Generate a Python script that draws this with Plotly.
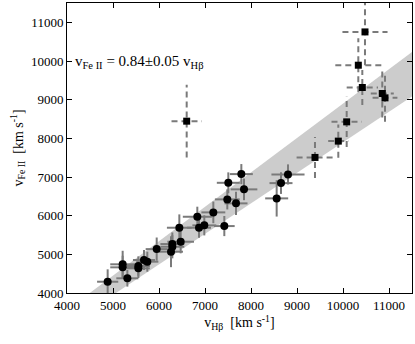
import plotly.graph_objects as go

# circles: solid error bars
hb_c = [4884, 5210, 5210, 5312, 5551, 5551, 5674, 5746, 5950, 6261, 6290, 6290, 6471, 6442,
        6833, 6870, 6985, 7181, 7420, 7485, 7507, 7674, 7790, 7848, 8558, 8652, 8804]
fe_c = [4292, 4742, 4664, 4380, 4698, 4638, 4853, 4810, 5135, 5068, 5196, 5266, 5326, 5688,
        5972, 5688, 5749, 6085, 5731, 6421, 6850, 6318, 7075, 6680, 6447, 6842, 7067]
hb_c_err = [230, 270, 270, 240, 250, 250, 240, 240, 240, 260, 260, 260, 290, 270,
            315, 260, 260, 260, 225, 270, 250, 250, 250, 290, 250, 250, 360]
fe_c_err = [320, 350, 300, 215, 250, 250, 260, 260, 300, 400, 300, 300, 300, 345,
            260, 260, 260, 280, 260, 260, 270, 300, 260, 280, 470, 280, 260]

# squares: dashed error bars
hb_s = [10478, 10333, 10420, 10854, 10913, 6602, 10080, 9898, 9391]
fe_s = [10752, 9891, 9315, 9160, 9047, 8444, 8426, 7928, 7506]
hb_s_err = [490, 500, 340, 250, 270, 330, 330, 220, 400]
fe_s_err = [860, 700, 450, 620, 620, 940, 650, 430, 530]

slope = 0.84
slope_err = 0.05
band_x = [4000, 11500]
ticks = [4000, 5000, 6000, 7000, 8000, 9000, 10000, 11000]

serif = "Liberation Serif"
grey = "#7a7a7a"

fig = go.Figure()

# fit band
fig.add_trace(go.Scatter(x=band_x, y=[(slope - slope_err) * v for v in band_x],
                         mode='lines', line=dict(width=0, color='#cccccc'),
                         showlegend=False, hoverinfo='skip'))
fig.add_trace(go.Scatter(x=band_x, y=[(slope + slope_err) * v for v in band_x],
                         mode='lines', line=dict(width=0, color='#cccccc'),
                         fill='tonexty', fillcolor='#cccccc',
                         showlegend=False, hoverinfo='skip'))

# dashed error bars for squares
seg_x, seg_y = [], []
for x, y, ex, ey in zip(hb_s, fe_s, hb_s_err, fe_s_err):
    seg_x += [x - ex, x + ex, None, x, x, None]
    seg_y += [y, y, None, y - ey, y + ey, None]
fig.add_trace(go.Scatter(x=seg_x, y=seg_y, mode='lines',
                         line=dict(color=grey, width=2, dash='6px,4px'),
                         showlegend=False, hoverinfo='skip'))

fig.add_trace(go.Scatter(x=hb_c, y=fe_c, mode='markers',
                         marker=dict(symbol='circle', size=8, color='black'),
                         error_x=dict(type='data', array=hb_c_err, color=grey, thickness=2, width=0),
                         error_y=dict(type='data', array=fe_c_err, color=grey, thickness=2, width=0),
                         showlegend=False))
fig.add_trace(go.Scatter(x=hb_s, y=fe_s, mode='markers',
                         marker=dict(symbol='square', size=7, color='black'),
                         showlegend=False))

fig.add_annotation(x=4120, y=9969, xref='x', yref='y', xanchor='left', yanchor='middle',
                   text='v<sub>Fe II</sub> = 0.84±0.05 v<sub>Hβ</sub>', showarrow=False,
                   font=dict(family=serif, size=15, color='black'))

axis_style = dict(showgrid=False, zeroline=False, showline=True, linecolor='black', linewidth=1,
                  mirror='ticks', ticks='inside', ticklen=5, tickcolor='black',
                  tickvals=ticks, ticktext=[str(t) for t in ticks],
                  tickfont=dict(family=serif, size=13, color='black'))

fig.update_xaxes(range=[4000, 11500],
                 title=dict(text='v<sub>Hβ</sub>  [km s<sup>-1</sup>]',
                            font=dict(family=serif, size=14, color='black'), standoff=4),
                 **axis_style)
fig.update_yaxes(range=[4000, 11500],
                 title=dict(text='v<sub>Fe II</sub>  [km s<sup>-1</sup>]',
                            font=dict(family=serif, size=14, color='black'), standoff=4),
                 **axis_style)

fig.update_layout(width=415, height=344, margin=dict(l=67, r=3, t=3, b=51),
                  plot_bgcolor='white', paper_bgcolor='white', showlegend=False)

# drop the default page margin so the figure sits at the window's corner
fig.write_html("out.html", config={'displayModeBar': False},
               post_script="document.body.style.margin='0';")
